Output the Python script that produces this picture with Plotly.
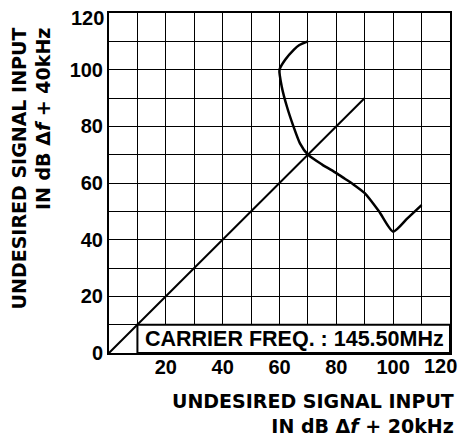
import plotly.graph_objects as go

# Data
curve_x = [70, 67, 65, 62, 60, 60.8, 62.6, 64.9, 67.2, 70, 75, 80, 83, 86, 90, 95, 100, 105, 110]
curve_y = [110, 108.7, 107, 103.5, 100, 94, 87, 80, 74, 70, 66.5, 63.5, 61.5, 59.5, 56.4, 50, 42.8, 47.5, 52.2]
diag_x = [0, 90]
diag_y = [0, 90]

tick_vals = [0, 10, 20, 30, 40, 50, 60, 70, 80, 90, 100, 110, 120]
x_tick_text = ["", "", "20", "", "40", "", "60", "", "80", "", "100", "", ""]
y_tick_text = ["0", "", "20", "", "40", "", "60", "", "80", "", "100", "", ""]
edge_tick_value = 120
edge_tick_label = "120"
carrier_box_x = [10, 120]
carrier_box_y = [0, 10]
carrier_text = "CARRIER FREQ. : 145.50MHz"

FONT = "Liberation Sans, Arial, Helvetica, sans-serif"
TFONT = "DejaVu Sans, Liberation Sans, Arial, sans-serif"
tickfont = dict(family=FONT, size=20, color="black", weight="bold")

fig = go.Figure()
fig.add_trace(go.Scatter(x=diag_x, y=diag_y, mode="lines",
                         line=dict(color="black", width=2), showlegend=False))
fig.add_trace(go.Scatter(x=curve_x, y=curve_y, mode="lines",
                         line=dict(color="black", width=2.5, shape="spline", smoothing=0.6),
                         showlegend=False))

fig.add_shape(type="rect", xref="x", yref="y",
              x0=carrier_box_x[0], x1=carrier_box_x[1], y0=carrier_box_y[0], y1=carrier_box_y[1],
              fillcolor="white", line=dict(color="black", width=2), layer="above")
fig.add_annotation(x=(carrier_box_x[0] + carrier_box_x[1]) / 2 + 0.3, y=(carrier_box_y[0] + carrier_box_y[1]) / 2,
                   xref="x", yref="y", text=carrier_text, showarrow=False,
                   font=dict(family=FONT, size=21.5, color="black", weight="bold"))

axis_common = dict(range=[0, 120], tickvals=tick_vals, showgrid=True, gridcolor="black",
                   gridwidth=1.3, showline=True, linecolor="black", linewidth=2, mirror=True,
                   zeroline=False, ticks="", fixedrange=True, automargin=False,
                   tickfont=tickfont)
fig.update_xaxes(ticktext=x_tick_text, ticklabelstandoff=-5, **axis_common)
fig.update_yaxes(ticktext=y_tick_text, ticklabelstandoff=0, **axis_common)

# end-of-axis "120" labels, nudged inward as in the original
fig.add_annotation(x=edge_tick_value, xref="x", y=0, yref="paper", xanchor="right", yanchor="middle",
                   xshift=9, yshift=-13, text=edge_tick_label, showarrow=False, font=tickfont)
fig.add_annotation(x=0, xref="paper", y=edge_tick_value, yref="y", xanchor="right", yanchor="middle",
                   xshift=-3, yshift=-5, text=edge_tick_label, showarrow=False, font=tickfont)

fig.add_annotation(xref="paper", yref="paper", x=1.017, y=-0.103, xanchor="right", yanchor="top",
                   align="right", showarrow=False,
                   text="UNDESIRED SIGNAL INPUT<br>IN dB Δ<i>f</i> + 20kHz",
                   font=dict(family=TFONT, size=19, color="black", weight="bold"))
fig.add_annotation(xref="paper", yref="paper", x=-0.302, y=0.962, xanchor="left", yanchor="top",
                   align="right", showarrow=False, textangle=-90,
                   text="UNDESIRED SIGNAL INPUT<br>IN dB Δ<i>f</i> + 40kHz",
                   font=dict(family=TFONT, size=19, color="black", weight="bold"))

# page body has an 8px margin; compensate so the plot sits where the reference has it
fig.update_layout(width=459, height=432, margin=dict(l=101, r=17, t=5, b=87),
                  plot_bgcolor="white", paper_bgcolor="white")
fig.write_html("out.html")
